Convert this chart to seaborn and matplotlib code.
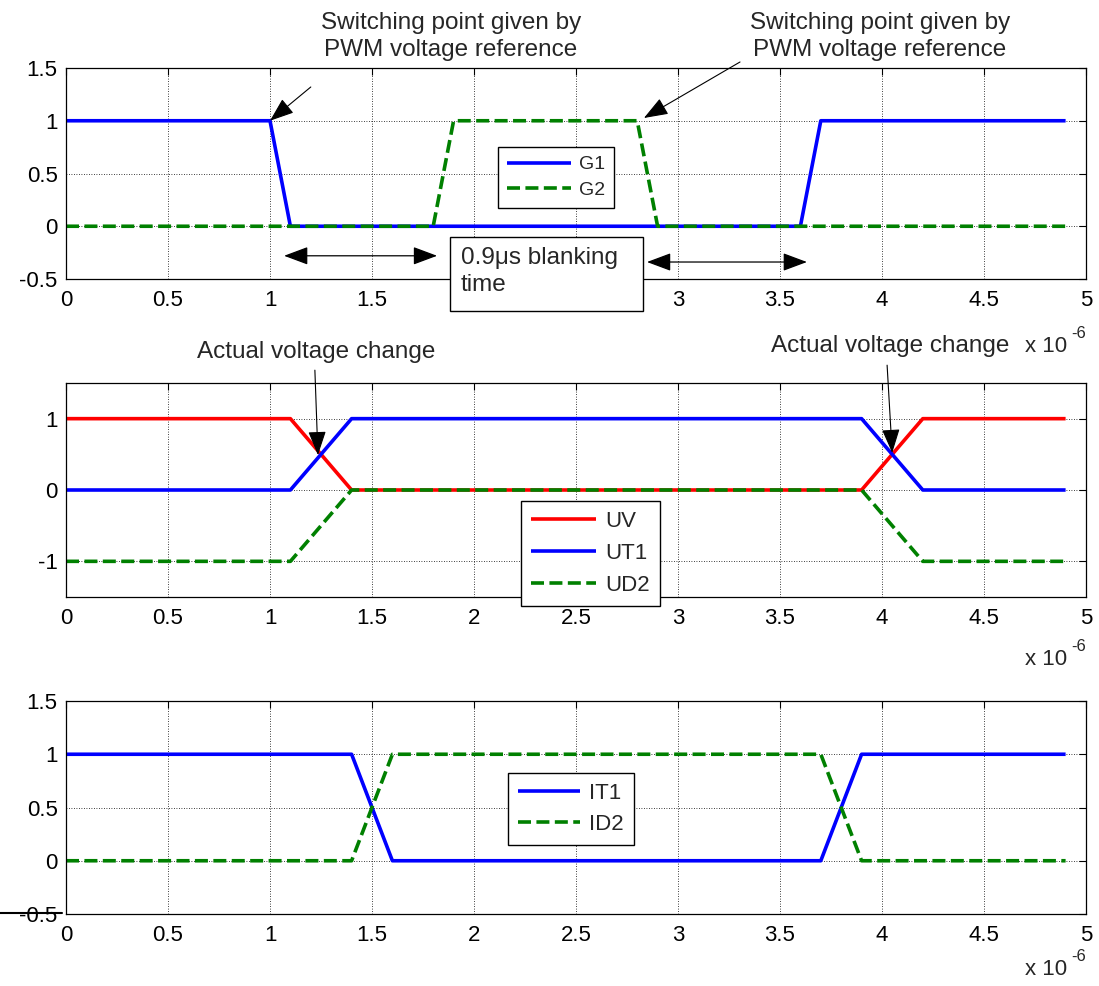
import matplotlib
matplotlib.use("Agg")
import matplotlib.pyplot as plt
import seaborn as sns
import numpy as np
import pandas as pd
from matplotlib.lines import Line2D
from matplotlib.patches import Rectangle

# ---------------- data (time in units of 1e-6 s) ----------------
t_g1 = [0, 1.0, 1.1, 3.6, 3.7, 4.9]
g1 = [1, 1, 0, 0, 1, 1]
t_g2 = [0, 1.8, 1.9, 2.8, 2.9, 4.9]
g2 = [0, 0, 1, 1, 0, 0]

t_u = [0, 1.1, 1.4, 3.9, 4.2, 4.9]
uv = [1, 1, 0, 0, 1, 1]
ut1 = [0, 0, 1, 1, 0, 0]
ud2 = [-1, -1, 0, 0, -1, -1]

t_i = [0, 1.4, 1.6, 3.7, 3.9, 4.9]
it1 = [1, 1, 0, 0, 1, 1]
id2 = [0, 0, 1, 1, 0, 0]

xticks = [0, 0.5, 1, 1.5, 2, 2.5, 3, 3.5, 4, 4.5, 5]
xticklabels = ["0", "0.5", "1", "1.5", "2", "2.5", "3", "3.5", "4", "4.5", "5"]
yticks_a = [-0.5, 0, 0.5, 1, 1.5]
yticklabels_a = ["-0.5", "0", "0.5", "1", "1.5"]
yticks_b = [-1, 0, 1]
yticklabels_b = ["-1", "0", "1"]

# ---------------- style ----------------
sns.set_style("white")
plt.rcParams["font.family"] = ["Liberation Sans", "DejaVu Sans"]
plt.rcParams["axes.unicode_minus"] = False

W, H = 1099, 986
fig = plt.figure(figsize=(W / 100, H / 100), dpi=100)

def fx(px):
    return px / W

def fy(py):
    return 1 - py / H

BLUE = (0, 0, 1)
RED = (1, 0, 0)
GREEN = (0, 0.5, 0)
LW = 2.6
DASH = (3.6, 1.5)
TICKFS = 16
ANNFS = 17.5

def make_ax(top, bottom):
    ax = fig.add_axes([fx(66), fy(bottom), fx(1086) - fx(66), (bottom - top) / H])
    return ax

def style_ax(ax, ylim, yticks, yticklabels):
    ax.set_xlim(0, 5)
    ax.set_ylim(*ylim)
    ax.set_xticks(xticks)
    ax.set_xticklabels(xticklabels)
    ax.set_yticks(yticks)
    ax.set_yticklabels(yticklabels)
    ax.tick_params(direction="in", length=5, width=0.8, top=True, right=True,
                   labelsize=TICKFS, colors="black")
    ax.tick_params(axis="x", pad=8)
    ax.tick_params(axis="y", pad=6)
    ax.grid(True, color="black", linestyle=(0, (1, 2)), linewidth=0.6)
    for s in ax.spines.values():
        s.set_visible(True)
        s.set_color("black")
        s.set_linewidth(0.9)
    ax.set_xlabel("")
    ax.set_ylabel("")

def legend(ax, x, y, fs, hl, ls):
    leg = ax.legend(loc="upper left", bbox_to_anchor=(x, y), fontsize=fs,
                    frameon=True, fancybox=False, edgecolor="black",
                    framealpha=1, handlelength=hl, borderpad=0.45,
                    labelspacing=ls, handletextpad=0.4, borderaxespad=0)
    leg.get_frame().set_linewidth(1.0)
    leg.set_zorder(20)

def draw(ax, t, y, color, label, dashed=False):
    sns.lineplot(x=t, y=y, ax=ax, color=color, linewidth=LW, label=label,
                 estimator=None, sort=False)
    ln = ax.lines[-1]
    if dashed:
        ln.set_dashes(DASH)
    ln.set_solid_capstyle("butt")
    ln.set_dash_capstyle("butt")

def arrow(ax, tail, tip, color="black", lw=0.8):
    ax.annotate("", xy=tip, xytext=tail, xycoords="data", textcoords="data",
                annotation_clip=False,
                arrowprops=dict(arrowstyle="-|>,head_length=0.75,head_width=0.28",
                                color=color, lw=lw, mutation_scale=20,
                                shrinkA=0, shrinkB=0), zorder=30)

def darrow(ax, a, b, color="black"):
    ax.annotate("", xy=b, xytext=a, xycoords="data", textcoords="data",
                annotation_clip=False,
                arrowprops=dict(arrowstyle="<|-|>,head_length=0.75,head_width=0.28",
                                color="black", lw=0.9, mutation_scale=20,
                                shrinkA=0, shrinkB=0), zorder=30)

# ---------------- subplot 1 ----------------
ax1 = make_ax(68, 279)
draw(ax1, t_g1, g1, BLUE, "G1")
draw(ax1, t_g2, g2, GREEN, "G2", dashed=True)
style_ax(ax1, (-0.5, 1.5), yticks_a, yticklabels_a)
legend(ax1, 0.4235, 0.6256, 14, 3.3, 0.42)

ax1.text(1.887, 1.80, "Switching point given by\nPWM voltage reference",
         ha="center", va="center", fontsize=ANNFS, linespacing=1.3, clip_on=False)
ax1.text(3.99, 1.80, "Switching point given by\nPWM voltage reference",
         ha="center", va="center", fontsize=ANNFS, linespacing=1.3, clip_on=False)
arrow(ax1, (1.20, 1.32), (1.0, 1.0))
arrow(ax1, (3.304, 1.557), (2.833, 1.026))
darrow(ax1, (1.069, -0.28), (1.819, -0.28))
darrow(ax1, (2.848, -0.339), (3.632, -0.339))
ax1.add_patch(Rectangle((1.882, -0.803), 2.828 - 1.882, 0.70, facecolor="white",
                        edgecolor="black", linewidth=1.0, clip_on=False, zorder=25))
ax1.text(1.935, -0.43, "0.9\u03bcs blanking\ntime", ha="left", va="center",
         fontsize=ANNFS, linespacing=1.3, clip_on=False, zorder=26)

# ---------------- subplot 2 ----------------
ax2 = make_ax(383, 597)
draw(ax2, t_u, uv, RED, "UV")
draw(ax2, t_u, ut1, BLUE, "UT1")
draw(ax2, t_u, ud2, GREEN, "UD2", dashed=True)
style_ax(ax2, (-1.5, 1.5), yticks_b, yticklabels_b)
legend(ax2, 0.446, 0.4486, 16, 2.95, 0.5)
ax2.text(1.225, 1.935, "Actual voltage change", ha="center", va="center",
         fontsize=ANNFS, clip_on=False)
ax2.text(4.04, 2.02, "Actual voltage change", ha="center", va="center",
         fontsize=ANNFS, clip_on=False)
arrow(ax2, (1.22, 1.68), (1.235, 0.49))
arrow(ax2, (4.025, 1.75), (4.05, 0.52))

# ---------------- subplot 3 ----------------
ax3 = make_ax(701, 914)
draw(ax3, t_i, it1, BLUE, "IT1")
draw(ax3, t_i, id2, GREEN, "ID2", dashed=True)
style_ax(ax3, (-0.5, 1.5), yticks_a, yticklabels_a)
legend(ax3, 0.4333, 0.662, 16, 2.8, 0.45)

# ---------------- x 10^-6 labels ----------------
for base in (352, 665, 975):
    fig.text(fx(1025), fy(base), "x 10", fontsize=TICKFS, ha="left", va="baseline")
    fig.text(fx(1071), fy(base - 14), "-6", fontsize=12, ha="left", va="baseline")

# stray line left of the bottom axes
fig.add_artist(Line2D([0, fx(62)], [fy(913), fy(913)], transform=fig.transFigure,
                      color="black", linewidth=1.5))

fig.savefig("out.png", dpi=100)
